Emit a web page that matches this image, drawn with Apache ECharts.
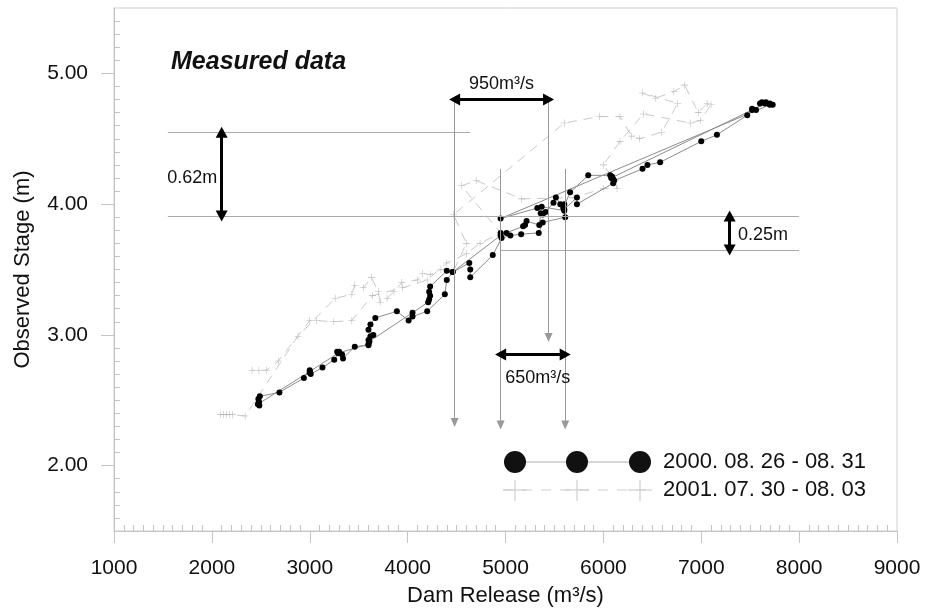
<!DOCTYPE html>
<html>
<head>
<meta charset="utf-8">
<script src="https://cdn.jsdelivr.net/npm/echarts@6/dist/echarts.min.js"></script>
<style>html,body{margin:0;padding:0;background:#fff}#c{width:925px;height:616px}</style>
</head>
<body>
<div id="c"></div>
<script>
// ---- data ----
var xTicks = [1000, 2000, 3000, 4000, 5000, 6000, 7000, 8000, 9000];
var yTicks = [2, 3, 4, 5];
var legendNames = ['2000. 08. 26 - 08. 31', '2001. 07. 30 - 08. 03'];

// 2000.08.26 - 08.31 (Dam release m3/s, stage m)
var s2000x = [7730,7700,7660,7620,7600,7560,7520,7470,7160,7000,6580,6450,6400,6110,6100,5730,5730,5600,5610,5380,5340,5160,5050,4960,4870,4640,4640,4630,4460,4400,4380,4200,4050,4050,4010,3890,3670,3620,3600,3650,3620,3600,3600,3460,3340,3330,3300,3280,3250,3130,3010,3000,3000,2940,2690,2490,2475,2480,2470,2485,
  2480,3000,3290,3600,3610,4210,4220,4230,4220,4230,4400,4460,4950,4950,5010,5180,5200,5215,5345,5360,5380,5410,5490,5515,5560,5600,5590,5660,5845,6070,6080,6100,6090,7520,7650,7700,4950,5325,5370,5600];
var s2000y = [4.76,4.77,4.78,4.78,4.77,4.72,4.73,4.68,4.53,4.48,4.32,4.30,4.27,4.18,4.16,4.00,4.05,3.96,3.90,3.86,3.78,3.77,3.76,3.74,3.61,3.44,3.50,3.55,3.48,3.42,3.31,3.18,3.14,3.17,3.11,3.18,3.13,3.08,3.04,3.00,2.99,2.96,2.92,2.91,2.82,2.85,2.87,2.87,2.81,2.75,2.70,2.71,2.73,2.67,2.56,2.53,2.51,2.49,2.47,2.46,
  2.48,2.72,2.86,2.93,2.95,3.25,3.27,3.30,3.33,3.37,3.49,3.48,3.76,3.78,3.78,3.83,3.84,3.87,3.84,3.93,3.92,3.94,4.01,4.05,4.00,4.00,3.97,4.09,4.22,4.22,4.20,4.19,4.21,4.72,4.77,4.76,3.89,3.97,3.98,3.95];

// 2001.07.30 - 08.03
var s2001x = [2090,2120,2150,2180,2210,2340,2880,3260,3430,3460,3550,3630,3700,3720,3790,3860,3940,4100,4150,4230,4340,4470,4600,4470,5600,5960,6170,6290,6370,6595,6760,6400,6530,6720,6830,6970,7060,7100,6990,6890,6410,6170,6000,6120,6140,6000,5700,5165,4700,4550,4950,4740,4600,4400,4200,3950,3640,3430,3240,3070,3000,2680,2560,2480,2410];
var s2001y = [2.39,2.39,2.39,2.39,2.39,2.38,2.99,3.28,3.31,3.38,3.36,3.44,3.33,3.25,3.28,3.33,3.40,3.42,3.47,3.46,3.50,3.49,3.70,3.92,4.62,4.67,4.67,4.52,4.50,4.55,4.77,4.85,4.81,4.86,4.91,4.70,4.77,4.76,4.64,4.62,4.69,4.48,4.30,4.18,4.12,4.12,4.05,4.04,4.18,4.14,3.78,3.70,3.62,3.55,3.42,3.36,3.30,3.11,3.10,3.11,3.11,2.80,2.73,2.73,2.73];

// annotations (data coordinates)
var guideLinesH = [[1550, 4.55, 4640, 4.55], [1550, 3.91, 8000, 3.91], [4950, 3.65, 8000, 3.65]];
var guideArrowsV = [[4480, 4.82, 4480, 2.33], [5440, 4.82, 5440, 2.98], [4950, 4.27, 4950, 2.31], [5610, 4.27, 5610, 2.31]];
var doubleArrows = [[4480, 4.80, 5440, 4.80], [4950, 2.85, 5610, 2.85], [2100, 4.55, 2100, 3.91], [7290, 3.91, 7290, 3.65]];
var annoLabels = [
  {text: '950m³/s', x: 4960, y: 4.92, pos: 'inside'},
  {text: '650m³/s', x: 5330, y: 2.67, pos: 'inside'},
  {text: '0.62m', x: 1800, y: 4.20, pos: 'inside'},
  {text: '0.25m', x: 7370, y: 3.76, pos: 'right'}
];

// ---- build ----
function zip(xs, ys) { return xs.map(function (v, i) { return [v, ys[i]]; }); }
var minorX = [], minorY = [];
for (var i = 0; i < xTicks.length - 1; i++) for (var k = 1; k < 10; k++) minorX.push(xTicks[i] + k * (xTicks[i + 1] - xTicks[i]) / 10);
var yAll = [1].concat(yTicks).concat([6]);
for (var i = 0; i < yAll.length - 1; i++) for (var k = 1; k < 10; k++) { var v = +(yAll[i] + k * 0.1).toFixed(2); if (v > 1.5 && v < 5.5) minorY.push(v); }

var FONT = '"Liberation Sans", Arial, sans-serif';
var AX = '#c4c4c4';
var plus = 'path://M-1,-0.08L1,-0.08L1,0.08L-1,0.08Z M-0.08,-1L0.08,-1L0.08,1L-0.08,1Z';

var markLines = [];
guideLinesH.forEach(function (l) {
  markLines.push([{coord: [l[0], l[1]], symbol: 'none', lineStyle: {color: '#aaa', width: 1, type: 'solid'}}, {coord: [l[2], l[3]], symbol: 'none'}]);
});
guideArrowsV.forEach(function (l) {
  markLines.push([{coord: [l[0], l[1]], symbol: 'none', lineStyle: {color: '#999', width: 1, type: 'solid'}}, {coord: [l[2], l[3]], symbol: 'triangle', symbolSize: [8, 9]}]);
});
doubleArrows.forEach(function (l) {
  markLines.push([{coord: [l[0], l[1]], symbol: 'triangle', symbolSize: [12, 11], lineStyle: {color: '#000', width: 3, type: 'solid'}, itemStyle: {color: '#000'}}, {coord: [l[2], l[3]], symbol: 'triangle', symbolSize: [12, 11]}]);
});

var chart = echarts.init(document.getElementById('c'), null, {renderer: 'canvas'});
var option = {
  animation: false,
  backgroundColor: '#fff',
  textStyle: {fontFamily: FONT},
  title: {
    text: 'Measured data', left: 166, top: 45,
    textStyle: {fontFamily: FONT, fontSize: 25, fontStyle: 'italic', fontWeight: 'bold', color: '#111'}
  },
  grid: {left: 114, right: 28, top: 8, bottom: 85, show: true, borderColor: '#cfcfcf', borderWidth: 1, containLabel: false},
  xAxis: [{
    type: 'value', min: 1000, max: 9000, interval: 1000, position: 'bottom',
    name: 'Dam Release (m³/s)', nameLocation: 'middle', nameGap: 54,
    nameTextStyle: {fontFamily: FONT, fontSize: 22, color: '#111'},
    axisLine: {show: true, lineStyle: {color: AX, width: 1}},
    axisTick: {show: true, length: 12, lineStyle: {color: AX}},
    axisLabel: {fontFamily: FONT, fontSize: 21, color: '#111', margin: 27,
      formatter: function (v) { return String(v); }},
    splitLine: {show: false}
  }, {
    type: 'value', min: 1000, max: 9000, position: 'bottom', offset: 0,
    axisLine: {show: false}, axisLabel: {show: false}, splitLine: {show: false},
    axisTick: {show: true, inside: true, length: 6, customValues: minorX, lineStyle: {color: AX}}
  }],
  yAxis: [{
    type: 'value', min: 1.5, max: 5.5, position: 'left',
    name: 'Observed Stage (m)', nameLocation: 'middle', nameGap: 80,
    nameTextStyle: {fontFamily: FONT, fontSize: 22, color: '#111'},
    axisLine: {show: true, lineStyle: {color: AX, width: 1}},
    axisTick: {show: true, length: 13, customValues: yTicks, lineStyle: {color: AX}},
    axisLabel: {fontFamily: FONT, fontSize: 21, color: '#111', margin: 26, customValues: yTicks,
      formatter: function (v) { return v.toFixed(2); }},
    splitLine: {show: false}
  }, {
    type: 'value', min: 1.5, max: 5.5, position: 'left', offset: 0,
    axisLine: {show: false}, axisLabel: {show: false}, splitLine: {show: false},
    axisTick: {show: true, inside: true, length: 6, customValues: minorY, lineStyle: {color: AX}}
  }],
  series: [{
    name: legendNames[1], type: 'line', data: zip(s2001x, s2001y), z: 2,
    symbol: plus, symbolSize: 7, showSymbol: true,
    itemStyle: {color: '#b8b8b8'},
    lineStyle: {color: '#cacaca', width: 1, type: [9, 7]}
  }, {
    name: legendNames[0], type: 'line', data: zip(s2000x, s2000y), z: 3,
    symbol: 'circle', symbolSize: 6, showSymbol: true,
    itemStyle: {color: '#000'},
    lineStyle: {color: '#8c8c8c', width: 1}
  }, {
    name: 'annotations', type: 'line', data: [], z: 4,
    markLine: {silent: true, animation: false, label: {show: false}, data: markLines, symbol: ['none', 'none'], itemStyle: {color: '#444'}},
    markPoint: {
      silent: true, animation: false, symbol: 'circle', symbolSize: 1,
      itemStyle: {color: 'rgba(0,0,0,0)'},
      data: annoLabels.map(function (a) {
        return {name: a.text, coord: [a.x, a.y],
          label: {show: true, position: a.pos, distance: 0, formatter: '{b}', color: '#111', fontFamily: FONT, fontSize: 18}};
      })
    }
  }],
  graphic: [
    {type: 'line', shape: {x1: 515, y1: 462, x2: 640, y2: 462}, style: {stroke: '#c8c8c8', lineWidth: 1.5}},
    {type: 'circle', shape: {cx: 515, cy: 462, r: 11}, style: {fill: '#111'}},
    {type: 'circle', shape: {cx: 577, cy: 462, r: 11}, style: {fill: '#111'}},
    {type: 'circle', shape: {cx: 640, cy: 462, r: 11}, style: {fill: '#111'}},
    {type: 'text', x: 663, y: 462, style: {text: legendNames[0], fill: '#111', font: '22px ' + FONT, verticalAlign: 'middle', align: 'left'}},
    {type: 'line', shape: {x1: 503, y1: 490, x2: 652, y2: 490}, style: {stroke: '#d0d0d0', lineWidth: 1.2, lineDash: [10, 9]}},
    {type: 'line', shape: {x1: 503, y1: 490, x2: 527, y2: 490}, style: {stroke: '#cfcfcf', lineWidth: 1.2}},
    {type: 'line', shape: {x1: 515, y1: 480, x2: 515, y2: 501}, style: {stroke: '#cfcfcf', lineWidth: 1.2}},
    {type: 'line', shape: {x1: 565, y1: 490, x2: 589, y2: 490}, style: {stroke: '#cfcfcf', lineWidth: 1.2}},
    {type: 'line', shape: {x1: 577, y1: 480, x2: 577, y2: 501}, style: {stroke: '#cfcfcf', lineWidth: 1.2}},
    {type: 'line', shape: {x1: 628, y1: 490, x2: 652, y2: 490}, style: {stroke: '#cfcfcf', lineWidth: 1.2}},
    {type: 'line', shape: {x1: 640, y1: 480, x2: 640, y2: 501}, style: {stroke: '#cfcfcf', lineWidth: 1.2}},
    {type: 'text', x: 663, y: 490, style: {text: legendNames[1], fill: '#111', font: '22px ' + FONT, verticalAlign: 'middle', align: 'left'}}
  ]
};
chart.setOption(option);
</script>
</body>
</html>
